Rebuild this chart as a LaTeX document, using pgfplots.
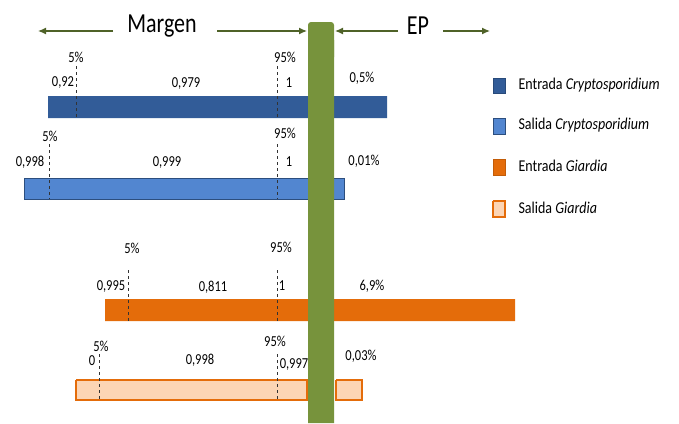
\documentclass[border=0pt]{standalone}
\usepackage{fontspec}
\setmainfont{Carlito}
\usepackage{graphicx}
\usepackage{pgfplots}
\pgfplotsset{compat=1.18}
\usetikzlibrary{arrows.meta}
\definecolor{cA}{RGB}{50,92,152}
\definecolor{cB}{RGB}{82,134,208}
\definecolor{cBb}{RGB}{44,78,126}
\definecolor{cC}{RGB}{228,108,10}
\definecolor{cD}{RGB}{252,213,181}
\definecolor{gbar}{RGB}{119,147,60}
\definecolor{garr}{RGB}{79,98,40}
\newcommand{\lbx}[1]{\scalebox{1}[1.22]{\fontsize{12.5}{14}\selectfont #1}}
\newcommand{\legx}[1]{\scalebox{1}[1.18]{\fontsize{14}{16}\selectfont #1}}
\newcommand{\bgx}[1]{\scalebox{1}[1.25]{\fontsize{22}{24}\selectfont #1}}
\begin{document}
\begin{tikzpicture}
\begin{axis}[scale only axis, width=679pt, height=423pt,
  xmin=0, xmax=679, ymin=0, ymax=423, y dir=reverse, hide axis, clip=false]
\path (axis cs:0,0) rectangle (axis cs:679,423);
% bars
\addplot[fill=cA, draw=none] coordinates {(48,96) (387,96) (387,118) (48,118) (48,96)};
\addplot[fill=cB, draw=cBb, line width=1pt] coordinates {(24,178) (344,178) (344,199) (24,199) (24,178)};
\addplot[fill=cC, draw=none] coordinates {(105,299) (515,299) (515,321) (105,321) (105,299)};
\addplot[fill=cD, draw=cC, line width=1.5pt] coordinates {(76,380) (307,380) (307,400) (76,400) (76,380)};
\addplot[fill=cD, draw=cC, line width=1.5pt] coordinates {(336,380) (362,380) (362,400) (336,400) (336,380)};
% dashed lines
\addplot[black!80, dashed, line width=0.6pt] coordinates {(76,66) (76,118)};
\addplot[black!80, dashed, line width=0.6pt] coordinates {(277,66) (277,118)};
\addplot[black!80, dashed, line width=0.6pt] coordinates {(49,144) (49,199)};
\addplot[black!80, dashed, line width=0.6pt] coordinates {(277,144) (277,199)};
\addplot[black!80, dashed, line width=0.6pt] coordinates {(128,270) (128,321)};
\addplot[black!80, dashed, line width=0.6pt] coordinates {(277,270) (277,321)};
\addplot[black!80, dashed, line width=0.6pt] coordinates {(99,354) (99,400)};
\addplot[black!80, dashed, line width=0.6pt] coordinates {(277,354) (277,400)};
% green bar
\addplot[fill=gbar, draw=none, rounded corners=3pt] coordinates {(308,60) (308,22) (334,22) (334,60) (308,60)};
\addplot[fill=gbar, draw=none] coordinates {(308,423) (308,40) (334,40) (334,423) (308,423)};
% arrows
\addplot[garr, line width=1.2pt, -{Latex[length=8pt,width=7pt]}] coordinates {(113,31) (38,31)};
\addplot[garr, line width=1.2pt, -{Latex[length=8pt,width=7pt]}] coordinates {(217,31) (307,31)};
\addplot[garr, line width=1.2pt, -{Latex[length=8pt,width=7pt]}] coordinates {(398,31) (335,31)};
\addplot[garr, line width=1.2pt, -{Latex[length=8pt,width=7pt]}] coordinates {(443,31) (490,31)};
\node[anchor=center] at (axis cs:162,26) {\bgx{Margen}};
\node[anchor=center] at (axis cs:418,26) {\bgx{EP}};
% labels bar 1
\node at (axis cs:76,57) {\lbx{5\%}};
\node at (axis cs:285,57) {\lbx{95\%}};
\node at (axis cs:63,83) {\lbx{0,92}};
\node at (axis cs:186,84) {\lbx{0,979}};
\node at (axis cs:289,83) {\lbx{1}};
\node at (axis cs:362,78) {\lbx{0,5\%}};
% bar 2
\node at (axis cs:50,136) {\lbx{5\%}};
\node at (axis cs:285,133) {\lbx{95\%}};
\node at (axis cs:30,162) {\lbx{0,998}};
\node at (axis cs:167,163) {\lbx{0,999}};
\node at (axis cs:289,162) {\lbx{1}};
\node at (axis cs:364,161) {\lbx{0,01\%}};
% bar 3
\node at (axis cs:132,248) {\lbx{5\%}};
\node at (axis cs:281,247) {\lbx{95\%}};
\node at (axis cs:111,287) {\lbx{0,995}};
\node at (axis cs:213,287) {\lbx{0,811}};
\node at (axis cs:282,286) {\lbx{1}};
\node at (axis cs:372,286) {\lbx{6,9\%}};
% bar 4
\node at (axis cs:101,346) {\lbx{5\%}};
\node at (axis cs:275,341) {\lbx{95\%}};
\node at (axis cs:92,361) {\lbx{0}};
\node at (axis cs:200,360) {\lbx{0,998}};
\node at (axis cs:294,365) {\lbx{0,997}};
\node at (axis cs:361,356) {\lbx{0,03\%}};
% legend
\addplot[fill=cA, draw=cA!80!black, line width=0.5pt] coordinates {(493,78) (505,78) (505,93) (493,93) (493,78)};
\addplot[fill=cB, draw=cBb, line width=0.8pt] coordinates {(493,118) (505,118) (505,134) (493,134) (493,118)};
\addplot[fill=cC, draw=cC!85!black, line width=0.5pt] coordinates {(493,159) (505,159) (505,175) (493,175) (493,159)};
\addplot[fill=cD, draw=cC, line width=1.2pt] coordinates {(493,201) (505,201) (505,217) (493,217) (493,201)};
\node[anchor=west] at (axis cs:515,85) {\legx{Entrada \textit{Cryptosporidium}}};
\node[anchor=west] at (axis cs:515,125) {\legx{Salida \textit{Cryptosporidium}}};
\node[anchor=west] at (axis cs:515,166) {\legx{Entrada \textit{Giardia}}};
\node[anchor=west] at (axis cs:515,208) {\legx{Salida \textit{Giardia}}};
\end{axis}
\end{tikzpicture}
\end{document}
